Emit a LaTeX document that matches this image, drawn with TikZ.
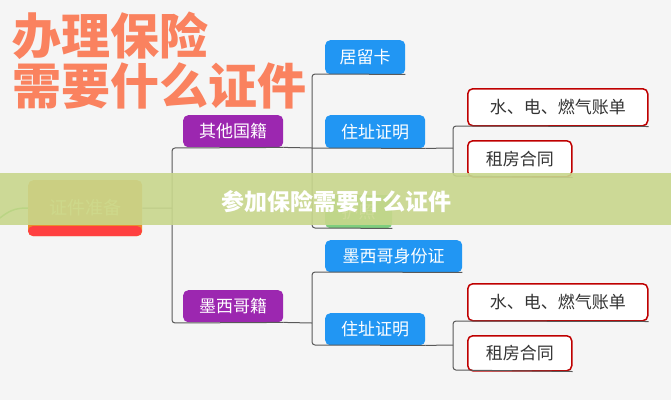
\documentclass[tikz,border=0pt]{standalone}
\usepackage{fontspec}
\setmainfont{Noto Sans CJK SC}
\definecolor{bl}{RGB}{33,150,243}
\definecolor{pu}{RGB}{156,39,176}
\definecolor{ti}{RGB}{250,130,95}
\definecolor{bn}{RGB}{200,215,140}
\begin{document}
\begin{tikzpicture}[x=1pt,y=-1pt,
  box/.style={rounded corners=5pt,inner sep=0pt,font=\fontsize{17}{17}\selectfont},
  purp/.style={box,fill=pu,text=white},
  blue/.style={box,fill=bl,text=white},
  redb/.style={box,draw=red!75!black,line width=1.5pt,fill=white,text=black!80},
  ttl/.style={anchor=west,font=\fontsize{49}{49}\selectfont\bfseries,text=ti,inner sep=0pt},
  ln/.style={draw=gray!70!black,line width=1pt,rounded corners=3pt}]
\fill[gray!8] (0,0) rectangle (671,400);
\useasboundingbox (0,0) rectangle (671,400);
% title
\node[ttl] (t1) at (12,36) {办理保险};
\node[ttl] (t2) at (12,86) {需要什么证件};
% root
\node[box,fill=orange!65!brown!90,minimum width=114,minimum height=56,anchor=north west] (root) at (28,180) {};
\fill[red!75,rounded corners=5pt] (28,226) rectangle (142,236);
\node[font=\fontsize{18}{18}\selectfont,text=orange!40!yellow!50] at (85,208) {证件准备};
\draw[green!50!gray,line width=1.5pt] (0,218) .. controls (12,208) and (20,208) .. (root.west);
% level 1
\node[purp,minimum width=100,minimum height=32,anchor=north west] (a) at (183,115) {其他国籍};
\node[purp,minimum width=100,minimum height=32,anchor=north west] (b) at (183,290) {墨西哥籍};
\coordinate (j0) at (172,208);
\draw[ln] (root.east) -- (j0);
\draw[ln] (a.south east) -- (172,148) -- (172,323) -- (b.south east);
% level 2 upper
\node[blue,minimum width=80,minimum height=34,anchor=north west] (c1) at (325,40) {居留卡};
\node[blue,minimum width=100,minimum height=33,anchor=north west] (c2) at (325,115) {住址证明};
\node[box,fill=green!45!gray!70,text=white,minimum width=67,minimum height=33,anchor=north west] (c3) at (325,195) {护照};
\draw[ln] (c1.south east) -- (312,74) -- (312,228) -- (c3.south east);
\draw[ln] (a.south east) -- (312,148);
\draw[ln] (312,148) -- (c2.south east);
% lower
\node[blue,minimum width=137,minimum height=32,anchor=north west] (d1) at (325,240) {墨西哥身份证};
\node[blue,minimum width=100,minimum height=32,anchor=north west] (d2) at (325,313) {住址证明};
\draw[ln] (d1.south east) -- (312,272) -- (312,345) -- (d2.south east);
\draw[ln] (b.south east) -- (312,323);
% red boxes
\node[redb,minimum width=180,minimum height=37,anchor=north west] (e1) at (467,88) {水、电、燃气账单};
\node[redb,minimum width=104,minimum height=36,anchor=north west] (e2) at (467,140) {租房合同};
\draw[ln] (c2.south east) -- (453,148);
\draw[ln] (e1.south east) -- (453,126) -- (453,176) -- (e2.south east);
\node[redb,minimum width=180,minimum height=37,anchor=north west] (f1) at (467,283) {水、电、燃气账单};
\node[redb,minimum width=104,minimum height=35,anchor=north west] (f2) at (467,335) {租房合同};
\draw[ln] (d2.south east) -- (453,345);
\draw[ln] (f1.south east) -- (453,321) -- (453,370) -- (f2.south east);
% banner
\fill[bn,opacity=0.9] (0,173) rectangle (671,225);
\node[font=\fontsize{23}{23}\selectfont\bfseries,text=white] (ban) at (336,202) {参加保险需要什么证件};
\end{tikzpicture}
\end{document}
